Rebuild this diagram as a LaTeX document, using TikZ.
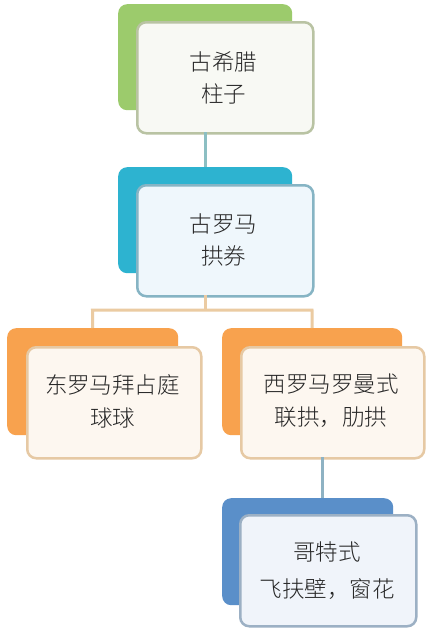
\documentclass[tikz,border=0pt]{standalone}
\usepackage{fontspec}
\setmainfont{Noto Sans CJK SC}
\newfontfamily\cjk{Noto Sans CJK SC Light}
\definecolor{gback}{HTML}{9CCB6C}
\definecolor{gedge}{HTML}{B9C3A3}
\definecolor{gfill}{HTML}{F8F9F4}
\definecolor{tback}{HTML}{2DB3D0}
\definecolor{tedge}{HTML}{86B4C4}
\definecolor{tfill}{HTML}{EFF7FC}
\definecolor{oback}{HTML}{F8A24E}
\definecolor{oedge}{HTML}{E6C9A4}
\definecolor{ofill}{HTML}{FDF7F0}
\definecolor{bback}{HTML}{5A8FC9}
\definecolor{bedge}{HTML}{9CB0C4}
\definecolor{bfill}{HTML}{F0F4FA}
\definecolor{lineteal}{HTML}{8CBFC3}
\definecolor{lineorange}{HTML}{EBCBA2}
\definecolor{lineblue}{HTML}{8EB2C3}
\begin{document}
\begin{tikzpicture}[x=1pt,y=-1pt,
  backbox/.style={rounded corners=9pt, inner sep=0pt, anchor=north west},
  frontbox/.style={rounded corners=9pt, line width=2.5pt, inner sep=0pt, anchor=north west},
  label/.style={font=\cjk\fontsize{22.5}{32}\selectfont, text=black!85, align=center, inner sep=0pt},
  conn/.style={line width=3pt}]
\useasboundingbox (0,0) rectangle (428,632);
\fill[white] (0,0) rectangle (428,632);
% connectors
\coordinate (c1a) at (205,132);
\coordinate (c1b) at (205,167);
\coordinate (c2a) at (205,295);
\coordinate (c2m) at (205,310);
\coordinate (c2l) at (92.5,310);
\coordinate (c2r) at (312,310);
\coordinate (c3a) at (322,457);
\coordinate (c3b) at (322,498);
% group 1
\node[backbox, fill=gback, minimum width=174pt, minimum height=106pt] (b1) at (118,4) {};
\node[frontbox, draw=gedge, fill=gfill, minimum width=176pt, minimum height=111pt] (f1) at (136,21) {};
\node[label] (t1) at (223.5,78) {古希腊\\柱子};
% group 2
\node[backbox, fill=tback, minimum width=174pt, minimum height=106pt] (b2) at (118,167) {};
\node[frontbox, draw=tedge, fill=tfill, minimum width=176pt, minimum height=111pt] (f2) at (136,184) {};
\node[label] (t2) at (223.5,240) {古罗马\\拱券};
% group 3
\node[backbox, fill=oback, minimum width=171pt, minimum height=107pt] (b3) at (7,328) {};
\node[frontbox, draw=oedge, fill=ofill, minimum width=174pt, minimum height=111pt] (f3) at (26,346) {};
\node[label, font=\cjk\fontsize{22.5}{33}\selectfont] (t3) at (112.5,401) {东罗马拜占庭\\球球};
% group 4
\node[backbox, fill=oback, minimum width=180pt, minimum height=107pt] (b4) at (222,328) {};
\node[frontbox, draw=oedge, fill=ofill, minimum width=183pt, minimum height=111pt] (f4) at (240,346) {};
\node[label, font=\cjk\fontsize{22.5}{33}\selectfont] (t4) at (331,401) {西罗马罗曼式\\联拱，肋拱};
% group 5
\node[backbox, fill=bback, minimum width=171pt, minimum height=107pt] (b5) at (222,498) {};
\node[frontbox, draw=bedge, fill=bfill, minimum width=176pt, minimum height=111pt] (f5) at (239,514) {};
\node[label, font=\cjk\fontsize{22.5}{37}\selectfont] (t5) at (327,571) {哥特式\\飞扶壁，窗花};
% draw connectors
\draw[conn, lineteal] (c1a) -- (c1b);
\draw[conn, lineorange] (c2a) -- (c2m);
\draw[conn, lineorange, line join=miter] (b3.north) -- (c2l) -- (c2r) -- (b4.north);
\draw[conn, lineblue] (c3a) -- (c3b);
\end{tikzpicture}
\end{document}
